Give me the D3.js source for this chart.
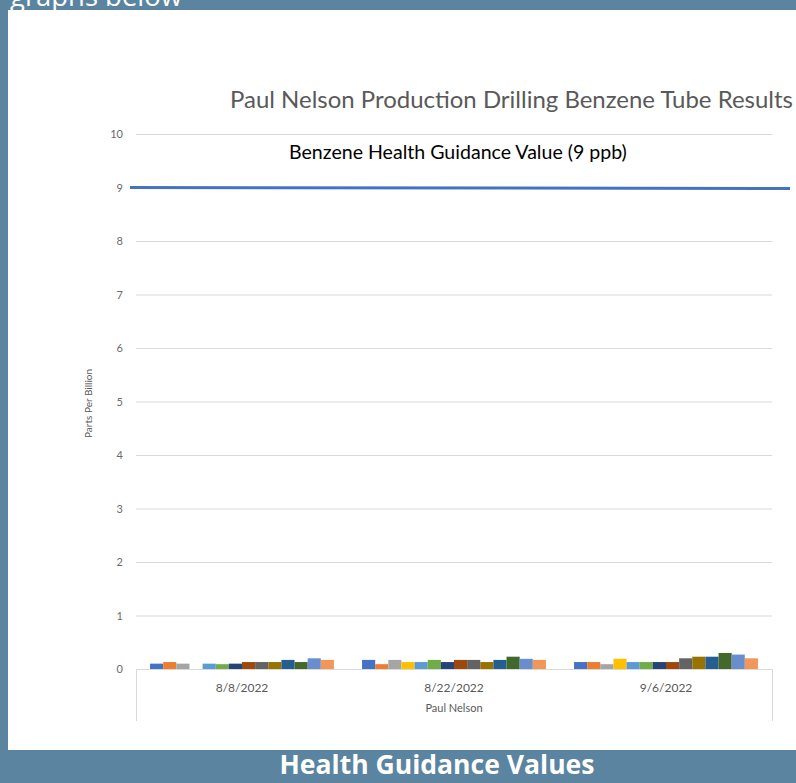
<!DOCTYPE html>
<html>
<head>
<meta charset="utf-8">
<script src="https://cdn.jsdelivr.net/npm/d3@7"></script>
<style>
  html, body { margin: 0; padding: 0; background: #5b84a1; }
  svg { display: block; }
</style>
</head>
<body>
<svg id="chart" width="796" height="783"></svg>
<script>
// ---------- DATA ----------
const categories = ["8/8/2022", "8/22/2022", "9/6/2022"];
const groupLabel = "Paul Nelson";
const seriesNames = ["Tube 1","Tube 2","Tube 3","Tube 4","Tube 5","Tube 6","Tube 7",
                     "Tube 8","Tube 9","Tube 10","Tube 11","Tube 12","Tube 13","Tube 14"];
// values per series, one per date (ppb)
const tube1  = [0.10, 0.17, 0.13];
const tube2  = [0.13, 0.09, 0.13];
const tube3  = [0.10, 0.17, 0.09];
const tube4  = [0.00, 0.13, 0.19];
const tube5  = [0.10, 0.13, 0.13];
const tube6  = [0.09, 0.17, 0.13];
const tube7  = [0.10, 0.13, 0.13];
const tube8  = [0.13, 0.17, 0.13];
const tube9  = [0.13, 0.17, 0.20];
const tube10 = [0.13, 0.13, 0.23];
const tube11 = [0.17, 0.17, 0.23];
const tube12 = [0.13, 0.23, 0.30];
const tube13 = [0.20, 0.19, 0.27];
const tube14 = [0.17, 0.17, 0.20];
const seriesValues = [tube1,tube2,tube3,tube4,tube5,tube6,tube7,tube8,tube9,tube10,tube11,tube12,tube13,tube14];
const yTicks = [0,1,2,3,4,5,6,7,8,9,10];
const guidanceValue = 9;
const guidanceLabel = "Benzene Health Guidance Value (9 ppb)";
const chartTitle = "Paul Nelson Production Drilling Benzene Tube Results";
const yAxisTitle = "Parts Per Billion";
const headerText = "graphs below";
const footerText = "Health Guidance Values";

// ---------- STYLE / LAYOUT ----------
const colors = ["#4472C4","#ED7D31","#A5A5A5","#FFC000","#5B9BD5","#70AD47","#264478",
                "#9E480E","#636363","#997300","#255E91","#43682B","#698ED0","#F1975A"];
const plot = { left: 136, right: 772, top: 134, bottom: 669 };
const font = "Lato, 'Open Sans', sans-serif";

const svg = d3.select("#chart");

function fitWidth(node, target) {
  const w = node.getComputedTextLength();
  const fs = parseFloat(node.getAttribute("font-size"));
  if (w > 0) node.setAttribute("font-size", (fs * target / w).toFixed(2));
}

// background panel
svg.append("rect").attr("x", 0).attr("y", 0).attr("width", 796).attr("height", 783).attr("fill", "#5b84a1");
svg.append("rect").attr("x", 8).attr("y", 10).attr("width", 788).attr("height", 740).attr("fill", "#ffffff");

// header (partly cut off at the top, as in the source page)
svg.append("text").attr("x", 10).attr("y", 6)
  .attr("font-family", "'Open Sans', sans-serif").attr("font-size", 24)
  .attr("fill", "#ffffff").text(headerText)
  .each(function(){ fitWidth(this, 172); });

// footer
svg.append("text").attr("x", 437).attr("y", 774).attr("text-anchor", "middle")
  .attr("font-family", "'Open Sans', sans-serif").attr("font-weight", "bold").attr("font-size", 22)
  .attr("fill", "#ffffff").text(footerText)
  .each(function(){ fitWidth(this, 315); });

// scales
const y = d3.scaleLinear().domain([0, 10]).range([plot.bottom, plot.top]);
const x0 = d3.scaleBand().domain(categories).range([plot.left, plot.right]).paddingInner(0).paddingOuter(0);
const x1 = d3.scaleBand().domain(seriesNames).range([0, x0.bandwidth()]).paddingInner(0).paddingOuter(1.07);

// gridlines + y axis
const yAxis = d3.axisLeft(y).tickValues(yTicks).tickSize(-(plot.right - plot.left)).tickPadding(13).tickFormat(d3.format("d"));
const gy = svg.append("g").attr("transform", `translate(${plot.left},0)`).call(yAxis);
gy.select(".domain").remove();
gy.selectAll(".tick line").attr("stroke", "#d9d9d9").attr("stroke-width", 1);
gy.selectAll(".tick text").attr("fill", "#6b6b6b").attr("font-family", font).attr("font-size", 11);

// bars
const grp = svg.append("g").selectAll("g").data(categories).join("g")
  .attr("transform", d => `translate(${x0(d)},0)`);
grp.selectAll("rect")
  .data((c, ci) => seriesNames.map((s, si) => ({ s, si, v: seriesValues[si][ci] })))
  .join("rect")
  .attr("x", d => x1(d.s))
  .attr("width", x1.bandwidth())
  .attr("y", d => y(d.v))
  .attr("height", d => y(0) - y(d.v))
  .attr("fill", d => colors[d.si]);

// category axis box
svg.append("line").attr("x1", plot.left).attr("x2", plot.right).attr("y1", y(0) + 0.5).attr("y2", y(0) + 0.5)
  .attr("stroke", "#d9d9d9");
[plot.left, plot.right].forEach(xx => {
  svg.append("line").attr("x1", xx + 0.5).attr("x2", xx + 0.5).attr("y1", y(0)).attr("y2", 721)
    .attr("stroke", "#d9d9d9");
});
svg.append("g").selectAll("text").data(categories).join("text")
  .attr("x", d => x0(d) + x0.bandwidth() / 2).attr("y", 692)
  .attr("text-anchor", "middle").attr("fill", "#595959")
  .attr("font-family", font).attr("font-size", 12).text(d => d);
svg.append("text").attr("x", (plot.left + plot.right) / 2).attr("y", 712)
  .attr("text-anchor", "middle").attr("fill", "#595959")
  .attr("font-family", font).attr("font-size", 11).text(groupLabel);

// y axis title
svg.append("text").attr("transform", `translate(92,${(plot.top + plot.bottom) / 2 + 2}) rotate(-90)`)
  .attr("text-anchor", "middle").attr("fill", "#595959")
  .attr("font-family", font).attr("font-size", 10).text(yAxisTitle);

// guidance line
svg.append("line").attr("x1", 130).attr("x2", 790)
  .attr("y1", y(guidanceValue)).attr("y2", y(guidanceValue) + 1)
  .attr("stroke", "#4472C4").attr("stroke-width", 3);
svg.append("text").attr("x", 289).attr("y", 159)
  .attr("fill", "#000000").attr("font-family", font).attr("font-size", 14)
  .text(guidanceLabel).each(function(){ fitWidth(this, 338); });

// title
svg.append("text").attr("x", 230).attr("y", 108)
  .attr("fill", "#595959").attr("font-family", font).attr("font-size", 19)
  .text(chartTitle).each(function(){ fitWidth(this, 563); });
</script>
</body>
</html>
